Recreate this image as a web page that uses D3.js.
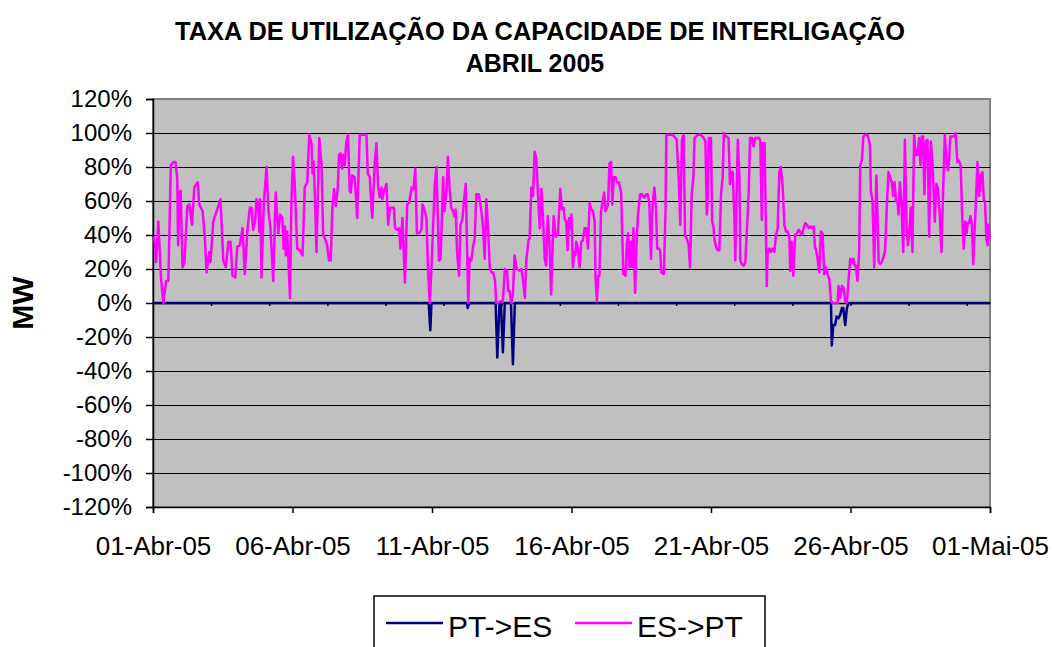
<!DOCTYPE html>
<html>
<head>
<meta charset="utf-8">
<script src="https://cdn.jsdelivr.net/npm/d3@7"></script>
<style>
  body { margin: 0; background: #fff; }
  svg { display: block; font-family: Arial, "Liberation Sans", sans-serif; }
</style>
</head>
<body>
<div id="chart"></div>
<script>
// days since 01-Abr-05 00:00, utilisation %
const ptToEs = [
  [0, 0], [9.88, 0], [9.94, -16], [9.98, 0], [11.25, 0], [11.28, -3], [11.32, -1], [11.36, 0],
  [12.28, 0], [12.34, -32], [12.42, 0], [12.47, 0], [12.54, -29], [12.61, 0], [12.83, 0], [12.90, -36], [12.97, 0],
  [24.30, 0], [24.33, -25], [24.38, -13], [24.45, -13], [24.50, -8], [24.57, -9], [24.63, -7], [24.69, -3],
  [24.74, -3], [24.81, -13], [24.87, -3], [24.93, 0], [30, 0]
];

const esToPt = [
  [0.04, 39], [0.11, 24], [0.19, 48], [0.29, 14], [0.37, 0], [0.47, 13], [0.55, 13], [0.64, 81], [0.73, 83],
  [0.81, 83], [0.87, 73], [0.90, 34], [0.94, 65], [0.99, 66], [1.06, 21], [1.13, 24], [1.23, 57], [1.30, 58],
  [1.40, 46], [1.48, 68], [1.60, 71], [1.66, 58], [1.78, 54], [1.86, 38], [1.92, 18], [2.02, 30], [2.06, 24],
  [2.16, 48], [2.28, 54], [2.42, 61], [2.52, 25], [2.61, 21], [2.70, 36], [2.78, 36], [2.85, 16], [2.95, 15],
  [3.02, 33], [3.11, 34], [3.21, 44], [3.29, 17], [3.38, 42], [3.47, 56], [3.53, 56], [3.59, 43], [3.66, 48],
  [3.71, 61], [3.77, 58], [3.81, 42], [3.84, 61], [3.89, 15], [3.97, 58], [4.07, 80], [4.14, 54], [4.21, 44],
  [4.31, 13], [4.36, 44], [4.40, 65], [4.49, 41], [4.56, 52], [4.64, 50], [4.68, 32], [4.73, 45], [4.76, 28],
  [4.81, 42], [4.91, 3], [4.96, 58], [5.02, 86],
  [5.08, 70], [5.17, 32], [5.26, 31], [5.36, 28], [5.44, 68], [5.53, 71], [5.60, 99], [5.68, 94], [5.72, 76],
  [5.76, 83], [5.80, 64], [5.86, 30], [5.96, 97], [6.04, 81], [6.10, 40], [6.16, 38], [6.24, 34], [6.31, 25],
  [6.37, 25], [6.43, 56], [6.49, 67], [6.55, 57], [6.62, 67], [6.67, 87], [6.72, 88], [6.78, 79], [6.81, 87],
  [6.87, 81], [6.93, 95], [6.99, 99], [7.05, 66], [7.09, 65], [7.14, 75], [7.23, 74], [7.32, 50], [7.41, 99],
  [7.51, 99], [7.65, 99], [7.70, 76], [7.77, 74], [7.83, 56], [7.86, 50], [7.95, 83], [8.01, 94], [8.07, 68],
  [8.13, 62], [8.19, 68], [8.22, 61], [8.28, 66], [8.37, 70], [8.43, 46], [8.49, 56], [8.55, 56], [8.63, 56],
  [8.68, 44], [8.75, 43], [8.82, 44], [8.87, 32], [8.94, 50], [9.03, 12], [9.11, 58], [9.18, 59], [9.27, 68],
  [9.34, 67], [9.40, 79], [9.46, 41], [9.54, 41], [9.62, 43], [9.66, 58], [9.73, 55], [9.80, 50], [9.86, 19],
  [9.92, 0], [9.98, 20], [10.04, 45], [10.10, 70], [10.16, 80],
  [10.25, 25], [10.31, 26], [10.40, 74], [10.45, 54], [10.51, 64], [10.57, 86], [10.63, 68], [10.69, 56],
  [10.75, 54], [10.81, 51], [10.85, 55], [10.90, 30], [10.97, 16], [11.02, 46], [11.09, 49], [11.15, 61],
  [11.21, 70], [11.25, 38], [11.30, 0], [11.35, 26], [11.41, 25], [11.47, 33], [11.53, 38], [11.59, 64],
  [11.68, 64], [11.77, 54], [11.83, 44], [11.89, 26], [11.95, 61], [12.01, 44], [12.07, 21], [12.13, 18],
  [12.19, 18], [12.26, 13], [12.30, 0], [12.36, 0], [12.45, 1], [12.54, 1], [12.61, 20], [12.69, 19],
  [12.73, 7], [12.78, 7], [12.84, 0], [12.90, 5], [12.96, 28], [13.04, 20], [13.14, 19], [13.20, 20],
  [13.26, 14], [13.33, 3], [13.38, 25], [13.46, 37], [13.50, 38], [13.56, 68], [13.62, 63], [13.68, 89],
  [13.74, 85], [13.80, 64], [13.86, 44], [13.92, 67], [13.98, 50], [14.04, 26], [14.09, 22], [14.15, 51],
  [14.21, 36], [14.27, 5], [14.36, 51], [14.43, 39], [14.51, 40], [14.60, 67], [14.66, 55], [14.72, 56],
  [14.76, 49], [14.81, 48], [14.86, 31], [14.91, 50], [14.95, 44], [15.00, 52],
  [15.05, 21], [15.10, 30], [15.14, 28], [15.17, 36], [15.23, 32], [15.29, 21], [15.35, 36], [15.41, 37],
  [15.47, 44], [15.53, 44], [15.59, 32], [15.65, 59], [15.71, 55], [15.77, 54], [15.83, 48], [15.86, 16],
  [15.91, 1], [15.96, 16], [16.00, 16], [16.06, 54], [16.12, 60], [16.17, 65], [16.22, 54], [16.27, 56],
  [16.31, 58], [16.36, 82], [16.42, 83], [16.46, 58], [16.52, 74], [16.58, 74], [16.64, 71], [16.70, 71],
  [16.78, 65], [16.82, 40], [16.86, 17], [16.94, 16], [16.98, 34], [17.03, 41], [17.08, 21], [17.13, 36],
  [17.17, 21], [17.22, 44], [17.28, 6], [17.34, 38], [17.39, 53], [17.46, 64], [17.53, 64], [17.62, 62],
  [17.68, 64], [17.73, 64], [17.79, 59], [17.85, 26], [17.91, 58], [17.97, 68], [18.03, 55], [18.07, 32],
  [18.13, 32], [18.18, 31], [18.22, 18], [18.31, 17], [18.37, 54], [18.40, 99], [18.51, 99], [18.63, 99],
  [18.73, 97], [18.77, 96], [18.84, 74], [18.90, 46], [18.96, 96], [19.02, 99], [19.07, 40], [19.13, 38],
  [19.20, 34], [19.25, 21], [19.31, 64], [19.37, 74], [19.41, 97], [19.53, 99], [19.64, 99], [19.74, 97],
  [19.80, 95], [19.85, 52], [19.88, 60], [19.92, 97], [20.00, 97],
  [20.04, 48], [20.09, 45], [20.12, 38], [20.18, 33], [20.24, 31], [20.30, 31], [20.36, 64], [20.42, 74],
  [20.46, 100], [20.52, 98], [20.56, 98], [20.63, 97], [20.68, 70], [20.73, 77], [20.78, 77], [20.84, 50],
  [20.87, 25], [20.92, 64], [20.96, 96], [21.02, 74], [21.05, 25], [21.10, 23], [21.17, 22], [21.23, 24],
  [21.29, 44], [21.35, 64], [21.40, 97], [21.47, 97], [21.53, 92], [21.58, 97], [21.67, 97], [21.73, 97],
  [21.77, 95], [21.82, 49], [21.85, 94], [21.92, 94], [22.00, 10], [22.03, 30], [22.09, 32], [22.15, 30],
  [22.21, 32], [22.27, 30], [22.33, 40], [22.39, 44], [22.45, 77], [22.50, 80], [22.57, 68], [22.63, 46],
  [22.69, 42], [22.75, 42], [22.81, 38], [22.84, 19], [22.89, 36], [22.95, 16], [23.02, 40], [23.08, 41],
  [23.14, 43], [23.19, 42], [23.26, 40], [23.32, 44], [23.38, 47], [23.44, 46], [23.50, 44], [23.56, 45],
  [23.62, 44], [23.68, 45], [23.73, 32], [23.76, 32], [23.82, 26], [23.88, 18], [23.94, 42], [24.00, 41],
  [24.06, 17], [24.12, 21], [24.18, 17], [24.24, 14], [24.30, 1], [24.38, 0], [24.48, 0], [24.54, 0],
  [24.57, 10], [24.63, 3], [24.69, 10], [24.75, 9], [24.81, 1], [24.87, 0], [24.93, 13],
  [24.99, 26], [25.05, 24], [25.10, 26], [25.15, 22], [25.19, 22], [25.25, 13], [25.31, 30], [25.35, 81],
  [25.41, 84], [25.46, 98], [25.53, 99], [25.61, 99], [25.70, 93], [25.73, 66], [25.79, 60], [25.85, 21],
  [25.93, 75], [26.01, 24], [26.07, 23], [26.12, 24], [26.18, 27], [26.24, 31], [26.30, 56], [26.36, 77],
  [26.42, 74], [26.48, 71], [26.53, 63], [26.58, 71], [26.63, 60], [26.69, 59], [26.72, 52], [26.77, 71],
  [26.83, 58], [26.89, 30], [26.95, 96], [27.01, 44], [27.06, 34], [27.12, 44], [27.16, 56], [27.22, 30],
  [27.28, 99], [27.34, 87], [27.40, 87], [27.46, 97], [27.51, 81], [27.56, 98], [27.60, 98], [27.65, 64],
  [27.70, 95], [27.76, 96], [27.82, 39], [27.88, 95], [27.94, 83], [27.97, 70], [28.02, 48], [28.08, 70],
  [28.14, 67], [28.20, 52], [28.26, 30], [28.32, 66], [28.38, 99], [28.44, 83], [28.50, 78], [28.54, 86],
  [28.58, 98], [28.66, 98], [28.71, 98], [28.77, 100], [28.83, 83], [28.87, 84], [28.95, 81], [29.01, 48],
  [29.06, 32], [29.11, 48], [29.16, 41], [29.20, 47], [29.25, 47], [29.30, 51], [29.35, 46], [29.40, 23],
  [29.47, 50], [29.55, 83], [29.61, 63], [29.67, 75], [29.73, 77], [29.78, 60], [29.82, 60], [29.87, 38],
  [29.91, 34], [29.94, 46], [29.99, 38]
];

const xTickDays = [0, 5, 10, 15, 20, 25, 30];
const xTickLabels = ['01-Abr-05', '06-Abr-05', '11-Abr-05', '16-Abr-05', '21-Abr-05', '26-Abr-05', '01-Mai-05'];
const yTicks = [-120, -100, -80, -60, -40, -20, 0, 20, 40, 60, 80, 100, 120];
const seriesNames = ['PT->ES', 'ES->PT'];
const seriesColors = ['#000080', '#ff00ff'];

const width = 1052;
const height = 647;
const plot = {left: 153, right: 990, top: 99, bottom: 507};

const svg = d3.select('#chart')
  .append('svg')
    .attr('width', width)
    .attr('height', height);

const x = d3.scaleLinear()
  .domain([0, 30])
  .range([plot.left, plot.right]);

const y = d3.scaleLinear()
  .domain([-120, 120])
  .range([plot.bottom, plot.top]);

// plot area
svg.append('rect')
  .attr('x', plot.left)
  .attr('y', plot.top)
  .attr('width', plot.right - plot.left)
  .attr('height', plot.bottom - plot.top)
  .attr('fill', '#c0c0c0')
  .attr('stroke', '#808080')
  .attr('stroke-width', 2);

// horizontal grid lines
svg.append('g')
  .attr('transform', `translate(${plot.left},0)`)
  .call(d3.axisLeft(y).tickValues(yTicks).tickSize(-(plot.right - plot.left)).tickFormat(''))
  .call(g => g.select('.domain').remove())
  .selectAll('line')
    .attr('stroke', '#000')
    .attr('stroke-width', 1)
    .filter(d => d === 120 || d === -120)
    .attr('stroke', '#808080');

// y axis
svg.append('g')
  .attr('class', 'y-axis')
  .attr('transform', `translate(${plot.left},0)`)
  .call(d3.axisLeft(y).tickValues(yTicks).tickSize(7).tickPadding(14).tickFormat(d => `${d}%`))
  .call(g => g.selectAll('text').attr('font-size', 24).attr('fill', '#000').attr('font-family', 'Arial, "Liberation Sans", sans-serif'))
  .call(g => g.selectAll('line, .domain').attr('stroke', '#000').attr('stroke-width', 1.5));

// x axis (labels low)
svg.append('g')
  .attr('class', 'x-axis')
  .attr('transform', `translate(0,${plot.bottom})`)
  .call(d3.axisBottom(x).tickValues(xTickDays).tickSize(6).tickPadding(24)
    .tickFormat((d, i) => xTickLabels[i]))
  .call(g => g.select('.domain').attr('stroke', '#000').attr('stroke-width', 1.5))
  .call(g => g.selectAll('line').attr('stroke', '#000').attr('stroke-width', 1.5))
  .call(g => g.selectAll('text').attr('font-size', 26).attr('fill', '#000').attr('font-family', 'Arial, "Liberation Sans", sans-serif'));

// category axis crossing at 0
svg.append('g')
  .attr('transform', `translate(0,${y(0)})`)
  .call(d3.axisBottom(x).tickValues(d3.range(0, 30, 50 / 24)).tickSizeInner(3).tickSizeOuter(0).tickFormat(''))
  .call(g => g.selectAll('line, .domain').attr('stroke', '#000').attr('stroke-width', 1.5));

const line = d3.line()
  .x(d => x(d[0]))
  .y(d => y(d[1]));

svg.append('path')
  .datum(ptToEs)
  .attr('d', line)
  .attr('fill', 'none')
  .attr('stroke', seriesColors[0])
  .attr('stroke-width', 2.5)
  .attr('stroke-linejoin', 'round');

svg.append('path')
  .datum(esToPt)
  .attr('d', line)
  .attr('fill', 'none')
  .attr('stroke', seriesColors[1])
  .attr('stroke-width', 2.5)
  .attr('stroke-linejoin', 'round');

// title
svg.append('text')
  .attr('x', 540)
  .attr('y', 40)
  .attr('text-anchor', 'middle')
  .attr('font-size', 25)
  .attr('font-weight', 'bold')
  .attr('textLength', 730)
  .attr('lengthAdjust', 'spacingAndGlyphs')
  .text('TAXA DE UTILIZAÇÃO DA CAPACIDADE DE INTERLIGAÇÃO');

svg.append('text')
  .attr('x', 535)
  .attr('y', 72)
  .attr('text-anchor', 'middle')
  .attr('font-size', 25)
  .attr('font-weight', 'bold')
  .text('ABRIL 2005');

// y axis title
svg.append('text')
  .attr('transform', `translate(33, ${y(0)}) rotate(-90)`)
  .attr('text-anchor', 'middle')
  .attr('font-size', 30)
  .attr('font-weight', 'bold')
  .text('MW');

// legend
const legend = svg.append('g').attr('class', 'legend');
legend.append('rect')
  .attr('x', 374)
  .attr('y', 596)
  .attr('width', 391)
  .attr('height', 70)
  .attr('fill', '#fff')
  .attr('stroke', '#000')
  .attr('stroke-width', 1.5);

const legendX = [386, 575];
seriesNames.forEach((name, i) => {
  legend.append('line')
    .attr('x1', legendX[i])
    .attr('x2', legendX[i] + 57)
    .attr('y1', 623)
    .attr('y2', 623)
    .attr('stroke', seriesColors[i])
    .attr('stroke-width', 2.5);
  legend.append('text')
    .attr('x', legendX[i] + 62)
    .attr('y', 637)
    .attr('font-size', 30)
    .text(name);
});
</script>
</body>
</html>
